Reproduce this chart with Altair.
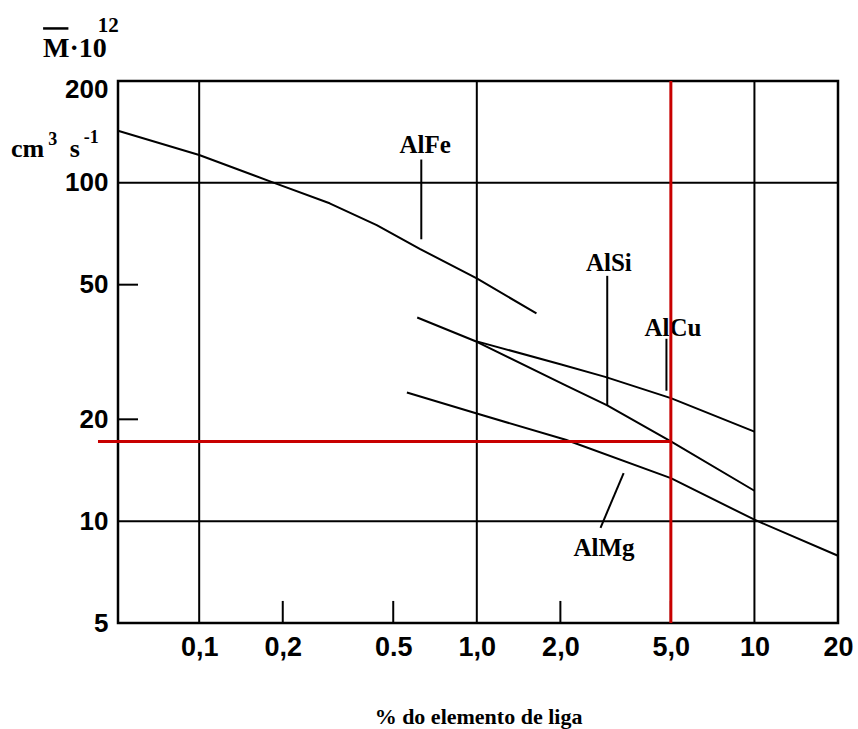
import altair as alt
import pandas as pd

# ---------------- data ----------------
X_MIN, X_MAX = 0.051, 20.0
Y_MIN, Y_MAX = 5.0, 200.0

alfe_x = [0.051, 0.1, 0.18, 0.295, 0.436, 0.623, 1.0, 1.64]
alfe_y = [142.6, 120.9, 101, 87, 75, 63.8, 52.2, 41.1]

alsi_x = [0.61, 1.0, 2.09, 2.95, 5.0, 10.0]
alsi_y = [40, 33.9, 25.2, 22.0, 17.2, 12.3]

alcu_x = [1.0, 2.0, 2.9, 5.0, 10.0]
alcu_y = [34.0, 29.1, 26.7, 23.1, 18.4]

almg_x = [0.56, 1.0, 2.09, 5.0, 10.0, 20.0]
almg_y = [24.0, 20.8, 17.4, 13.4, 10.1, 7.9]

x_ticks = [0.1, 0.2, 0.5, 1, 2, 5, 10, 20]
x_labels = ["0,1", "0,2", "0.5", "1,0", "2,0", "5,0", "10", "20"]
y_ticks = [5, 10, 20, 50, 100, 200]

x_grid = [0.1, 1, 10]
y_grid = [10, 100]
x_minor = [0.2, 0.5, 2, 5]
y_minor = [20, 50]

# curve names, label anchors, pointer segments
curve_names = ["AlFe", "AlSi", "AlCu", "AlMg"]
label_x = [0.652, 2.99, 5.09, 2.87]
label_y = [122.8, 54.8, 35.3, 7.91]
ptr_x1 = [0.631, 2.95, 4.82, 3.38]
ptr_y1 = [117.2, 53.1, 34.6, 13.87]
ptr_x2 = [0.631, 2.95, 4.82, 2.79]
ptr_y2 = [68.1, 22.0, 24.3, 9.56]

# red reading lines
red_x = 5.0
red_y = 17.2
red_x_start = 0.0432

# unit texts (top left)
unit_text = ["M·10", "12", "cm", "3", "s", "-1"]
unit_x = [0.0274, 0.0431, 0.0210, 0.0286, 0.0342, 0.0384]
unit_y = [235.3, 278.7, 119.5, 129.7, 119.5, 131.4]
unit_size = [28, 21, 26, 18, 26, 18]
overline_x = [0.0274, 0.0338]
overline_y = 286.0

# ---------------- tables ----------------
rows = []
for name, xs_, ys_ in zip(curve_names, [alfe_x, alsi_x, alcu_x, almg_x],
                          [alfe_y, alsi_y, alcu_y, almg_y]):
    for i, (a, b) in enumerate(zip(xs_, ys_)):
        rows.append({"serie": name, "x": a, "y": b, "o": i})
curves = pd.DataFrame(rows)

labels_df = pd.DataFrame({"t": curve_names, "x": label_x, "y": label_y})
ptr_df = pd.DataFrame({"x": ptr_x1, "y": ptr_y1, "x2": ptr_x2, "y2": ptr_y2})
units_df = pd.DataFrame({"t": unit_text, "x": unit_x, "y": unit_y, "s": unit_size})

xscale = alt.Scale(type="log", domain=[X_MIN, X_MAX])
yscale = alt.Scale(type="log", domain=[Y_MIN, Y_MAX])

LABEL_FONT = "Liberation Sans"
SERIF = "Liberation Serif"

expr_parts = " : ".join(
    f"abs(datum.value - {v}) < 1e-6 ? '{l}'" for v, l in zip(x_ticks, x_labels)
) + " : ''"

x_axis = alt.Axis(
    values=x_ticks, labelExpr=expr_parts, grid=False, ticks=False, domain=False,
    labelFont=LABEL_FONT, labelFontSize=27, labelFontWeight="bold", labelColor="black",
    labelPadding=11, labelFlush=False, labelOverlap=False,
    title="% do elemento de liga", titleFont=SERIF, titleFontSize=22,
    titleFontWeight="bold", titleColor="black", titleY=100, titleBaseline="alphabetic",
)
y_axis = alt.Axis(
    values=y_ticks, format="d", grid=False, ticks=False, domain=False,
    labelFont=LABEL_FONT, labelFontSize=26, labelFontWeight="bold", labelColor="black",
    labelPadding=10, labelBaseline="middle", labelFlush=False, labelOverlap=False,
    labelOffset={"expr": "datum.value == 200 ? 8 : 0"},
    title=None,
)

X = lambda f: alt.X(f, scale=xscale, axis=x_axis)
Y = lambda f: alt.Y(f, scale=yscale, axis=y_axis)

lines = alt.Chart(curves).mark_line(color="black", strokeWidth=2, strokeJoin="round").encode(
    x=X("x:Q"),
    y=Y("y:Q"),
    detail="serie:N",
    order="o:Q",
)

vgrid = alt.Chart(pd.DataFrame({"x": x_grid})).mark_rule(color="black", strokeWidth=2).encode(
    x=X("x:Q")
)
hgrid = alt.Chart(pd.DataFrame({"y": y_grid})).mark_rule(color="black", strokeWidth=2).encode(
    y=Y("y:Q")
)

xminor = alt.Chart(pd.DataFrame({"x": x_minor, "y": [Y_MIN] * 4, "y2": [5.81] * 4})).mark_rule(
    color="black", strokeWidth=2
).encode(x=X("x:Q"), y=Y("y:Q"), y2="y2:Q")
yminor = alt.Chart(pd.DataFrame({"y": y_minor, "x": [X_MIN] * 2, "x2": [0.0602] * 2})).mark_rule(
    color="black", strokeWidth=2
).encode(x=X("x:Q"), x2="x2:Q", y=Y("y:Q"))

pointers = alt.Chart(ptr_df).mark_rule(color="black", strokeWidth=2).encode(
    x=X("x:Q"), y=Y("y:Q"), x2="x2:Q", y2="y2:Q"
)

curve_labels = alt.Chart(labels_df).mark_text(
    font=SERIF, fontSize=25, fontWeight="bold", color="black", align="center", baseline="alphabetic"
).encode(x=X("x:Q"), y=Y("y:Q"), text="t:N")

red_v = alt.Chart(pd.DataFrame({"x": [red_x]})).mark_rule(color="#C80000", strokeWidth=3).encode(
    x=X("x:Q")
)
red_h = alt.Chart(pd.DataFrame({"x": [red_x_start], "x2": [red_x], "y": [red_y]})).mark_rule(
    color="#C80000", strokeWidth=3
).encode(x=X("x:Q"), x2="x2:Q", y=Y("y:Q"))

units = alt.Chart(units_df).mark_text(
    font=SERIF, fontWeight="bold", color="black", align="left", baseline="alphabetic"
).encode(
    x=X("x:Q"), y=Y("y:Q"), text="t:N",
    size=alt.Size("s:Q", scale=None, legend=None),
)
overline = alt.Chart(pd.DataFrame({"x": [overline_x[0]], "x2": [overline_x[1]], "y": [overline_y]})).mark_rule(
    color="black", strokeWidth=2.5
).encode(x=X("x:Q"), x2="x2:Q", y=Y("y:Q"))

chart = alt.layer(
    lines, vgrid, hgrid, xminor, yminor, pointers, curve_labels, red_h, red_v, units, overline
).properties(
    width=720, height=542,
    autosize=alt.AutoSizeParams(type="none"),
    padding={"left": 118, "top": 81, "right": 20, "bottom": 106},
    background="white",
).configure_view(stroke="black", strokeWidth=2.5)

chart.save("out.html", embed_options={"renderer": "svg", "actions": False})
